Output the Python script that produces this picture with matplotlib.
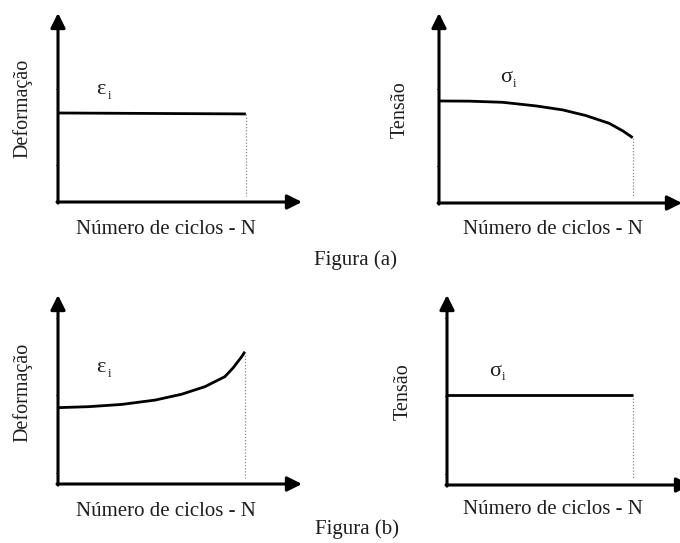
import matplotlib
matplotlib.use("Agg")
import matplotlib.pyplot as plt

plt.rcParams['font.family'] = ['Liberation Serif', 'DejaVu Serif']

W, H = 680, 543

# ---- data (normalised axes: 0 = origin, 1 = arrow tip) ----
# Figura (a) - deformation controlled
n_a_def = [0.0, 0.77]
def_a = [0.471, 0.466]
n_a_ten = [0.0, 0.125, 0.262, 0.399, 0.509, 0.605, 0.701, 0.757, 0.797]
ten_a = [0.537, 0.536, 0.530, 0.511, 0.490, 0.460, 0.419, 0.379, 0.344]
# Figura (b) - stress controlled
n_b_def = [0.0, 0.124, 0.261, 0.398, 0.507, 0.602, 0.684, 0.718, 0.753, 0.766]
def_b = [0.404, 0.409, 0.421, 0.444, 0.475, 0.515, 0.568, 0.615, 0.674, 0.700]
n_b_ten = [0.0, 0.762]
ten_b = [0.474, 0.474]

ticks_a = [0.196, 0.60]
ticks_b = [0.058, 0.47, 0.88]

xlabel = "Número de ciclos - N"
captions = ["Figura (a)", "Figura (b)"]

fig = plt.figure(figsize=(W / 100, H / 100), dpi=100)
fig.patch.set_facecolor('white')

def px(x, y):
    return x / W, 1 - y / H

def panel(origin, tipx, topy, n, v, ticks):
    ox, oy = origin
    ax = fig.add_axes([ox / W, 1 - oy / H, (tipx - ox) / W, (oy - topy) / H])
    ax.set_xlim(0, 1)
    ax.set_ylim(0, 1)
    ax.axis('off')
    ax.patch.set_alpha(0)
    ap = dict(arrowstyle='-|>', lw=2.2, color='black', mutation_scale=22,
              shrinkA=0, shrinkB=0)
    ax.annotate('', xy=(1, 0), xytext=(-0.004, 0), xycoords='axes fraction',
                arrowprops=ap, annotation_clip=False)
    ax.annotate('', xy=(0, 1), xytext=(0, -0.006), xycoords='axes fraction',
                arrowprops=ap, annotation_clip=False)
    for t in ticks:
        ax.plot([-0.008, 0], [t, t], color='#555555', lw=0.8, clip_on=False)
    ax.plot(n, v, color='black', lw=2.0, solid_capstyle='butt',
            solid_joinstyle='round', clip_on=False)
    ax.plot([n[-1], n[-1]], [v[-1], 0.03], color='#888888', lw=0.9,
            linestyle=(0, (1, 1.5)), clip_on=False)
    return ax

panel((58, 202), 302, 13, n_a_def, def_a, ticks_a)
panel((439, 203), 682, 13, n_a_ten, ten_a, ticks_a)
panel((58, 484), 302, 295, n_b_def, def_b, ticks_b)
panel((447, 485), 691, 295, n_b_ten, ten_b, ticks_b)

tc = '#1e1e1e'
# axis labels
for (x, y) in [(166, 230), (553, 230), (166, 512), (553, 510)]:
    fig.text(*px(x, y), xlabel, ha='center', va='center', fontsize=15, color=tc)
for (x, y, s) in [(22, 108, "Deformação"), (400, 110, "Tensão"),
                  (22, 392, "Deformação"), (403, 392, "Tensão")]:
    fig.text(*px(x, y), s, ha='center', va='center', fontsize=14.5, color=tc,
             rotation=90)
# curve labels (greek letter + small subscript i)
for (x, y, s) in [(101, 90, 'ε'), (506, 78, 'σ'), (101, 368, 'ε'), (495, 371, 'σ')]:
    fig.text(*px(x, y), s, ha='center', va='center', fontsize=16, color=tc)
    fig.text(*px(x + 8, y + 6), 'i', ha='center', va='center', fontsize=9, color=tc)
# captions
fig.text(*px(356, 260), captions[0], ha='center', va='center', fontsize=15, color=tc)
fig.text(*px(357, 529), captions[1], ha='center', va='center', fontsize=15, color=tc)

fig.savefig('out.png', dpi=100, facecolor='white')
